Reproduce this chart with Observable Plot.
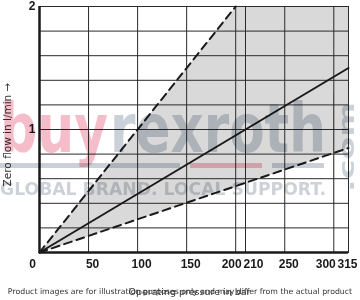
<!DOCTYPE html>
<html>
<head>
<meta charset="utf-8">
<script src="https://cdn.jsdelivr.net/npm/d3@7"></script>
<script src="https://cdn.jsdelivr.net/npm/@observablehq/plot@0.6"></script>
<style>
  html, body { margin: 0; padding: 0; background: #fff; }
  #wrap { position: relative; width: 360px; height: 300px; overflow: hidden; font-family: "DejaVu Sans", sans-serif; }
  #wrap svg { display: block; }
  .wm { position: absolute; white-space: nowrap; mix-blend-mode: multiply; pointer-events: none; font-family: "DejaVu Sans", sans-serif; line-height: 1; }
  .bar { position: absolute; height: 5px; mix-blend-mode: multiply; }
  #caption { position: absolute; left: 0; width: 360px; top: 288px; line-height: 1; text-align: center; font-size: 7.8px; color: #333; white-space: nowrap; }
</style>
</head>
<body>
<div id="wrap"></div>
<script>
// Tick labels
const xTicks = [0, 50, 100, 150, 200, 210, 250, 300, 315];
const yGrid = [0, 0.2, 0.4, 0.6, 0.8, 1, 1.2, 1.4, 1.6, 1.8, 2];
const yLabels = [1, 2];

// Series: pressure (bar) vs zero flow (l/min)
const upperP = [0, 200];
const upperQ = [0, 2];
const nominalP = [0, 315];
const nominalQ = [0, 1.5];
const lowerP = [0, 315];
const lowerQ = [0, 0.85];
// Shaded tolerance band outline
const bandP = [0, 200, 315, 315];
const bandQ = [0, 2, 2, 0.85];

const toPts = (P, Q) => P.map((p, i) => ({p, q: Q[i]}));
const upper = toPts(upperP, upperQ);
const nominal = toPts(nominalP, nominalQ);
const lower = toPts(lowerP, lowerQ);
const band = toPts(bandP, bandQ);

// label nudges (style only)
const labelNudge = {0: -7, 50: 4, 100: 4, 150: 4, 200: -4, 210: 8, 250: 4, 300: -8, 315: -1};

const ink = "#1a1a1a";
const tickFont = "Liberation Sans, Arial, sans-serif";
const chart = Plot.plot({
  width: 360,
  height: 300,
  marginLeft: 39,
  marginRight: 12,
  marginTop: 6,
  marginBottom: 48,
  style: {fontFamily: "DejaVu Sans, sans-serif", background: "transparent", color: ink},
  x: {domain: [0, 315]},
  y: {domain: [0, 2]},
  marks: [
    Plot.line(band, {x: "p", y: "q", fill: "#d9d9d9", stroke: "none"}),
    Plot.gridX(xTicks.slice(1), {stroke: "#2a2a2a", strokeOpacity: 1, strokeWidth: 1}),
    Plot.gridY(yGrid, {stroke: "#2a2a2a", strokeOpacity: 1, strokeWidth: 1}),
    Plot.frame({stroke: "#2a2a2a", strokeWidth: 1}),
    Plot.ruleX([0], {stroke: ink, strokeWidth: 2.5}),
    Plot.ruleY([0], {stroke: ink, strokeWidth: 2.5}),
    Plot.line(upper, {x: "p", y: "q", stroke: ink, strokeWidth: 2, strokeDasharray: "8,5"}),
    Plot.line(nominal, {x: "p", y: "q", stroke: ink, strokeWidth: 2}),
    Plot.line(lower, {x: "p", y: "q", stroke: ink, strokeWidth: 2, strokeDasharray: "8,5"}),
    ...xTicks.map(t => Plot.axisX([t], {tickSize: 0, tickPadding: 7, dx: labelNudge[t], fontWeight: "bold", fontSize: 12, fontFamily: tickFont, label: null, fill: ink})),
    Plot.axisY(yLabels, {tickSize: 0, tickPadding: 4, tickFormat: d => String(d), fontWeight: "bold", fontSize: 12, fontFamily: tickFont, label: null, fill: ink}),
    Plot.text(["Zero flow in l/min \u2192"], {text: d => d, frameAnchor: "left", textAnchor: "middle", dx: -32, dy: 5, rotate: -90, fontSize: 10.5, fill: "#333"}),
    Plot.text(["Operating pressure in bar"], {text: d => d, frameAnchor: "bottom", dx: -4.5, dy: 42, fontSize: 9.5, fill: "#333"})
  ]
});
const wrap = document.getElementById("wrap");
wrap.appendChild(chart);

// Watermark overlay
function addText(txt, left, top, size, color, weight) {
  const s = document.createElement("span");
  s.className = "wm";
  s.textContent = txt;
  s.style.left = left + "px";
  s.style.top = top + "px";
  s.style.fontSize = size + "px";
  s.style.color = color;
  s.style.fontWeight = weight;
  wrap.appendChild(s);
  return s;
}
function fit(s, targetW, sy, rot) {
  const w = s.getBoundingClientRect().width;
  s.style.transformOrigin = "0 0";
  s.style.transform = (rot ? `rotate(${rot}deg) ` : "") + `scale(${targetW / w}, ${sy})`;
}
const buy = addText("buy", 0, 95, 68, "#f5bdc9", "bold");
fit(buy, 108, 1);
const rex = addText("rexroth", 110, 95, 68, "#cbd1d9", "bold");
fit(rex, 216, 1);
const glob = addText("GLOBAL BRAND. LOCAL SUPPORT.", 0, 180, 18, "#ced2d8", "bold");
fit(glob, 326, 1);
const com = addText(".com", 336, 192, 22, "#cbd1d9", "bold");
fit(com, 90, 1, -90);

[[0, 180, "#cbd0d8"], [190, 262, "#f5bdc9"], [272, 324, "#cbd0d8"]].forEach(([a, b, c]) => {
  const d = document.createElement("div");
  d.className = "bar";
  d.style.left = a + "px";
  d.style.width = (b - a) + "px";
  d.style.top = "163px";
  d.style.background = c;
  wrap.appendChild(d);
});
const vline = document.createElement("div");
vline.className = "bar";
vline.style.left = "333px"; vline.style.top = "93px"; vline.style.width = "1px"; vline.style.height = "112px";
vline.style.background = "#d5d8dd";
wrap.appendChild(vline);

const cap = document.createElement("div");
cap.id = "caption";
cap.textContent = "Product images are for illustration purposes only and may differ from the actual product";
wrap.appendChild(cap);
</script>
</body>
</html>
